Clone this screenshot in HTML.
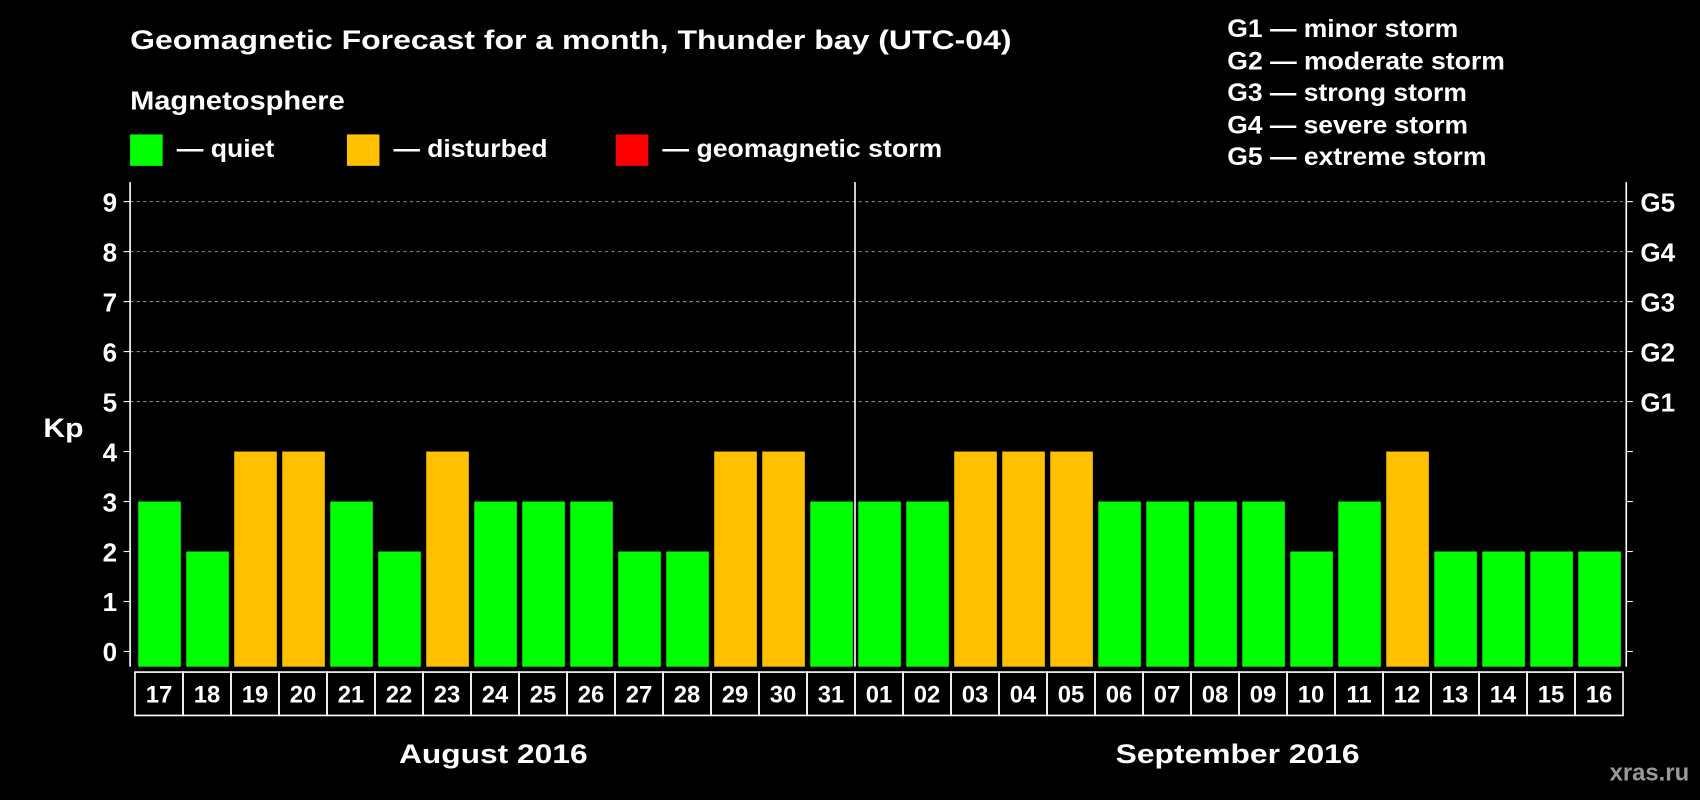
<!DOCTYPE html>
<html><head><meta charset="utf-8"><style>
html,body{margin:0;padding:0;background:#000;}
svg{display:block;font-family:"Liberation Sans",Arial,sans-serif;font-weight:bold;}
</style></head><body>
<svg id="chart" width="1700" height="800" viewBox="0 0 1568 738" preserveAspectRatio="none" xmlns="http://www.w3.org/2000/svg">
<rect x="0" y="0" width="1568" height="738" fill="#000"/>
<text x="120" y="45" fill="#fff" font-size="25" textLength="813" lengthAdjust="spacingAndGlyphs">Geomagnetic Forecast for a month, Thunder bay (UTC-04)</text>
<text x="120" y="101" fill="#fff" font-size="24" textLength="198" lengthAdjust="spacingAndGlyphs">Magnetosphere</text>
<g><rect x="120" y="124" width="30" height="29" fill="#00ff00"/><text x="163" y="145" fill="#fff" font-size="23" textLength="90" lengthAdjust="spacingAndGlyphs">— quiet</text></g>
<g><rect x="320" y="124" width="30" height="29" fill="#ffc000"/><text x="363" y="145" fill="#fff" font-size="23" textLength="142" lengthAdjust="spacingAndGlyphs">— disturbed</text></g>
<g><rect x="568" y="124" width="30" height="29" fill="#ff0000"/><text x="611" y="145" fill="#fff" font-size="23" textLength="258" lengthAdjust="spacingAndGlyphs">— geomagnetic storm</text></g>
<g fill="#fff" font-size="23">
<text x="1132" y="34" textLength="213" lengthAdjust="spacingAndGlyphs">G1 — minor storm</text>
<text x="1132" y="64" textLength="256" lengthAdjust="spacingAndGlyphs">G2 — moderate storm</text>
<text x="1132" y="93" textLength="221" lengthAdjust="spacingAndGlyphs">G3 — strong storm</text>
<text x="1132" y="123" textLength="222" lengthAdjust="spacingAndGlyphs">G4 — severe storm</text>
<text x="1132" y="152" textLength="239" lengthAdjust="spacingAndGlyphs">G5 — extreme storm</text>
</g>
<text x="40" y="403" fill="#fff" font-size="25" textLength="37" lengthAdjust="spacingAndGlyphs">Kp</text>
<g id="grid"></g>
<g id="bars"></g>
<g id="axes"></g>
<text x="368" y="704" fill="#fff" font-size="25" textLength="174" lengthAdjust="spacingAndGlyphs">August 2016</text>
<text x="1029" y="704" fill="#fff" font-size="25" textLength="225" lengthAdjust="spacingAndGlyphs">September 2016</text>
<text x="1558" y="720" fill="#9a9a9a" font-size="22" text-anchor="end">xras.ru</text>
</svg>
<script>
const days = ["17","18","19","20","21","22","23","24","25","26","27","28","29","30","31","01","02","03","04","05","06","07","08","09","10","11","12","13","14","15","16"];
const kpValues = [3,2,4,4,3,2,4,3,3,3,2,2,4,4,3,3,3,4,4,4,3,3,3,3,2,3,4,2,2,2,2];
const yTicks = [0,1,2,3,4,5,6,7,8,9];
const gLabels = ["","","","","","G1","G2","G3","G4","G5"];
const NS = "http://www.w3.org/2000/svg";
const L = 120, R = 1500, T = 168, B = 615;
const y0 = 601, unit = (601 - 186) / 9;
const x0 = 124.5, step = (1497 - 124.5) / days.length;
function y(v){ return y0 - v * unit; }
function x(i){ return x0 + i * step; }
function mk(tag, attrs, parent){ const e = document.createElementNS(NS, tag); for (const k in attrs) e.setAttribute(k, attrs[k]); parent.appendChild(e); return e; }
const grid = document.getElementById('grid'), bars = document.getElementById('bars'), axes = document.getElementById('axes');
yTicks.forEach((t, i) => {
  if (t >= 5) {
    const gl = mk('line', {x1: L, x2: R, y1: y(t), y2: y(t), stroke: '#888', 'stroke-dasharray': '3,3', 'stroke-width': 1}, grid);
    
    
  }
  const tl = mk('line', {x1: L - 6, x2: L, y1: y(t), y2: y(t), stroke: '#fff', 'stroke-width': 1}, axes);
  
  
  const tr = mk('line', {x1: R, x2: R + 6, y1: y(t), y2: y(t), stroke: '#fff', 'stroke-width': 1}, axes);
  
  
  const lab = mk('text', {x: L - 12, y: y(t) + 9, fill: '#fff', 'font-size': 24, 'text-anchor': 'end'}, axes);
  lab.textContent = t;
  
  
  if (gLabels[i]) {
    const gt = mk('text', {x: R + 13, y: y(t) + 9, fill: '#fff', 'font-size': 24}, axes);
    gt.textContent = gLabels[i];
    
    
  }
});
kpValues.forEach((v, i) => {
  const col = v >= 5 ? '#ff0000' : (v >= 4 ? '#ffc000' : '#00ff00');
  const r = mk('rect', {x: x(i) + 3, y: y(v), width: step - 5, height: B - y(v), fill: col}, bars);
  
  
  const c = mk('rect', {x: x(i), y: 620, width: step, height: 40, fill: 'none', stroke: '#fff', 'stroke-width': 1.5}, axes);
  
  
  const dt = mk('text', {x: x(i) + step / 2, y: 648, fill: '#fff', 'font-size': 22, 'text-anchor': 'middle'}, axes);
  dt.textContent = days[i];
  
  
});
const la = mk('line', {x1: L, x2: L, y1: T, y2: B, stroke: '#fff', 'stroke-width': 1.5}, axes);


const ra = mk('line', {x1: R, x2: R, y1: T, y2: B, stroke: '#fff', 'stroke-width': 1.5}, axes);


const sepIdx = days.indexOf("01");
const sep = mk('line', {x1: x(sepIdx), x2: x(sepIdx), y1: T, y2: B, stroke: '#fff', 'stroke-width': 1.5}, axes);


</script>
</body></html>
